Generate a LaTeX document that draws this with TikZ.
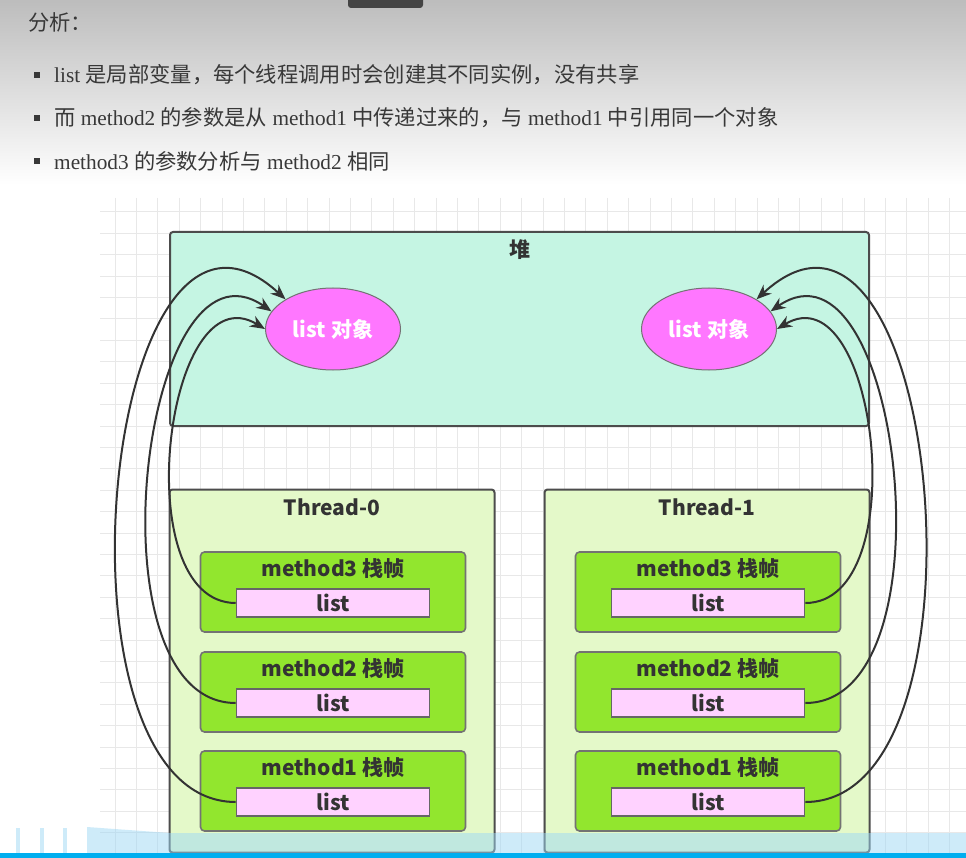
\documentclass[tikz,border=0pt]{standalone}
\usepackage{fontspec}
\setmainfont{Liberation Serif}
\newfontfamily\cjk{Noto Sans CJK SC}
\usetikzlibrary{positioning,arrows.meta,shapes.geometric}
\definecolor{heapmint}{HTML}{C5F5E3}
\definecolor{threadgreen}{HTML}{E4F9C9}
\definecolor{framegreen}{HTML}{92E62E}
\definecolor{listpink}{HTML}{FFD2FF}
\definecolor{objpink}{HTML}{FF77FF}
\definecolor{inkgray}{HTML}{333333}
\definecolor{textgray}{HTML}{383838}
\definecolor{gridgray}{HTML}{E8E8E8}
\definecolor{bandblue}{HTML}{9ED8F5}
\definecolor{barblue}{HTML}{00AEEF}
\definecolor{tabgray}{HTML}{444444}

\begin{document}
\begin{tikzpicture}[x=1pt, y=-1pt,
    note/.style={anchor=west, inner sep=0pt, text=textgray, font=\fontsize{21.3}{25}\selectfont},
    bullet/.style={fill=textgray, minimum size=6pt, inner sep=0pt},
    diag/.style={font={\cjk\bfseries\fontsize{21}{24}\selectfont}, text=inkgray},
    heapbox/.style={draw=black!70, line width=2pt, rounded corners=3pt, fill=heapmint, minimum width=699pt, minimum height=194pt},
    threadbox/.style={draw=black!70, line width=2pt, rounded corners=3pt, fill=threadgreen, minimum width=325pt, minimum height=363pt},
    framebox/.style={draw=black!55, line width=1.6pt, rounded corners=4pt, fill=framegreen, minimum width=265pt, minimum height=80pt},
    listbox/.style={diag, draw=black!60, line width=1.6pt, fill=listpink, minimum width=193pt, minimum height=28pt, inner sep=0pt},
    obj/.style={ellipse, draw=black!55, line width=1pt, fill=objpink, minimum width=135pt, minimum height=82pt, inner sep=0pt, font={\cjk\bfseries\fontsize{21}{24}\selectfont}, text=white},
    boxlbl/.style={diag, inner sep=1pt},
    ref/.style={-{Stealth[length=15pt, width=12pt]}, line width=2pt, draw=inkgray},
]
\useasboundingbox (0,0) rectangle (966,858);
% page background and header
\fill[white] (0,0) rectangle (966,858);
\fill[top color=black!26, bottom color=white] (0,0) rectangle (966,185);
\fill[tabgray, rounded corners=3pt] (348,-6) rectangle (423,8);

\node[note] (head) at (28,22) {\cjk 分析：};
\node[bullet] (d1) at (37,75) {};
\node[bullet] (d2) at (37,118) {};
\node[bullet] (d3) at (37,161) {};
\node[note] (b1) at (54,75) {list {\cjk 是局部变量，每个线程调用时会创建其不同实例，没有共享}};
\node[note] (b2) at (54,118) {{\cjk 而} method2 {\cjk 的参数是从} method1 {\cjk 中传递过来的，与} method1 {\cjk 中引用同一个对象}};
\node[note] (b3) at (54,161) {method3 {\cjk 的参数分析与} method2 {\cjk 相同}};

% grid
\foreach \n in {-4,...,35}
  \draw[gridgray, line width=1pt] ({864-21.4*\n},198) -- ({864-21.4*\n},858);
\foreach \n in {0,...,30}
  \draw[gridgray, line width=1pt] (100,{212+21.4*\n}) -- (966,{212+21.4*\n});

% heap
\node[heapbox] (heap) at (519.5,329) {};
\node[boxlbl, below=7pt of heap.north] (heapt) {堆};
\node[obj] (objA) at (333,329) {list 对象};
\node[obj] (objB) at (709,329) {list 对象};

% threads
\node[threadbox] (thA) at (332,671) {};
\node[boxlbl, below=9pt of thA.north] (thAt) {Thread-0};
\node[threadbox] (thB) at (707,671) {};
\node[boxlbl, below=9pt of thB.north] (thBt) {Thread-1};

\foreach \side/\cx in {A/333,B/708} {
  \foreach \k/\cy in {1/791,2/692,3/592} {
    \node[framebox] (f\side\k) at (\cx,\cy) {};
    \node[boxlbl, below=6pt of f\side\k.north] (t\side\k) {method\k\ 栈帧};
    \node[listbox] (l\side\k) at (\cx,\cy+11) {list};
  }
}

% references to the heap objects
\draw[ref] (lA1.west) .. controls +(-196,0) and +(-183,-168) .. (objA.148);
\draw[ref] (lA2.west) .. controls +(-150,0) and +(-130,-90) .. (objA.164);
\draw[ref] (lA3.west) .. controls +(-110,0) and +(-100,-60) .. (objA.180);
\draw[ref] (lB1.east) .. controls +(196,0) and +(183,-168) .. (objB.32);
\draw[ref] (lB2.east) .. controls +(150,0) and +(130,-90) .. (objB.16);
\draw[ref] (lB3.east) .. controls +(110,0) and +(100,-60) .. (objB.0);

% bottom strip
\fill[bandblue, opacity=0.5] (87,827) -- (170,833) -- (966,833) -- (966,853) -- (87,853) -- cycle;
\foreach \bx in {16,40,63}
  \fill[bandblue, opacity=0.5] (\bx,828) rectangle (\bx+4,853);
\fill[barblue] (0,853) rectangle (966,858);
\end{tikzpicture}
\end{document}
